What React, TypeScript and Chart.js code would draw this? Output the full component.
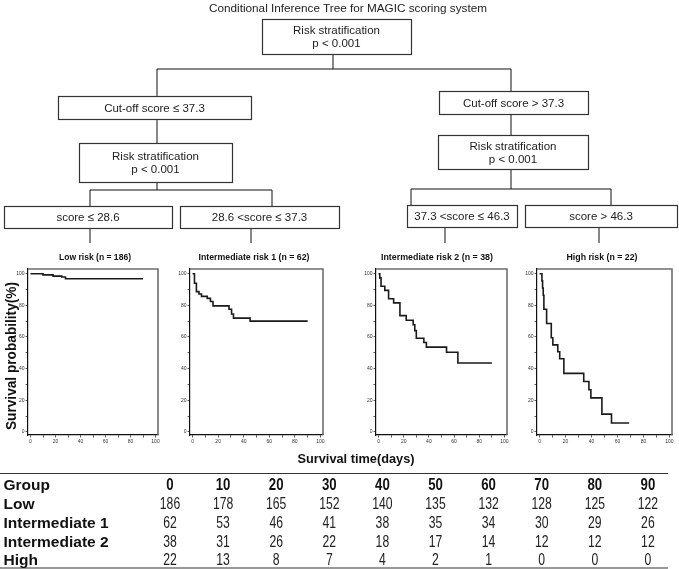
import React, { useEffect, useRef } from 'react';
import { Chart, registerables } from 'chart.js';

Chart.register(...registerables);

// ---------- Kaplan-Meier step data (time in days, survival %) ----------
const lowTimes = [0, 10, 18, 25, 28, 90];
const lowSurv = [100, 99.3, 98.5, 97.9, 96.8, 96.8];

const int1Times = [0, 1.5, 3, 5, 7, 11.5, 14, 16, 28.5, 30.5, 32, 45, 90];
const int1Surv = [100, 94, 88.7, 87.2, 85.7, 84.4, 82.4, 79.7, 77.5, 74.5, 71.9, 70, 70];

const int2Times = [0, 1, 2, 5, 8, 12, 17, 22, 27.5, 28.8, 30, 36, 38, 54, 63, 90];
const int2Surv = [100, 97.4, 92.1, 89.5, 84.2, 81.6, 73.5, 70.6, 67.7, 64, 59.2, 56.5, 53.6, 50.3, 43.5, 43.5];

const highTimes = [0, 1.8, 2.3, 2.8, 3.3, 5.4, 9, 10.2, 14, 15.5, 18.7, 34, 38, 39.5, 48, 55.4, 69];
const highSurv = [100, 95.5, 91, 86.4, 77.5, 68.5, 59.5, 55, 50.7, 46.2, 37, 31.8, 26.6, 21.5, 11.2, 5.6, 5.6];

const axisTicks = [0, 10, 20, 30, 40, 50, 60, 70, 80, 90, 100];

// ---------- Number-at-risk table ----------
const tableTimes = [0, 10, 20, 30, 40, 50, 60, 70, 80, 90];
const groupNames = ['Low', 'Intermediate 1', 'Intermediate 2', 'High'];
const atRiskLow = [186, 178, 165, 152, 140, 135, 132, 128, 125, 122];
const atRiskInt1 = [62, 53, 46, 41, 38, 35, 34, 30, 29, 26];
const atRiskInt2 = [38, 31, 26, 22, 18, 17, 14, 12, 12, 12];
const atRiskHigh = [22, 13, 8, 7, 4, 2, 1, 0, 0, 0];

const PLOT_TOP = 269;
const PLOT_BOTTOM = 435;
const PAD_L = 18;
const PAD_R = 8;
const PAD_T = 5;
const PAD_B = 14;

const framePlugin = {
  id: 'kmFrame',
  afterDraw(chart: any) {
    const { ctx, chartArea: a } = chart;
    ctx.save();
    ctx.strokeStyle = '#6e6e6e';
    ctx.lineWidth = 1.6;
    ctx.beginPath();
    ctx.moveTo(a.left, a.top);
    ctx.lineTo(a.right, a.top);
    ctx.lineTo(a.right, a.bottom);
    ctx.stroke();
    ctx.restore();
  },
};

function KMPanel({ times, surv, left, right }: { times: number[]; surv: number[]; left: number; right: number }) {
  const ref = useRef<HTMLCanvasElement>(null);
  const w = right - left + PAD_L + PAD_R;
  const h = PLOT_BOTTOM - PLOT_TOP + PAD_T + PAD_B;
  useEffect(() => {
    const tickCfg = {
      font: { size: 5, family: 'Arial' },
      color: '#333',
      padding: 1,
      autoSkip: false,
      maxRotation: 0,
      callback: (v: any) => (Number(v) % 20 === 0 ? String(v) : ''),
    };
    const gridCfg = { display: true, drawOnChartArea: false, drawTicks: true, tickLength: 2.5, color: '#333', lineWidth: 0.8 };
    const chart = new Chart(ref.current as HTMLCanvasElement, {
      type: 'line',
      data: {
        datasets: [
          {
            data: times.map((t, i) => ({ x: t, y: surv[i] })),
            stepped: true,
            borderColor: '#1a1a1a',
            borderWidth: 1.6,
            pointRadius: 0,
            fill: false,
          },
        ],
      },
      options: {
        animation: false,
        responsive: false,
        devicePixelRatio: 1,
        events: [],
        layout: { padding: { left: 0, right: PAD_R, top: PAD_T, bottom: 0 } },
        plugins: { legend: { display: false }, tooltip: { enabled: false }, title: { display: false } },
        scales: {
          x: {
            type: 'linear',
            min: -2,
            max: 102,
            afterFit: (s: any) => { s.height = PAD_B; },
            afterBuildTicks: (s: any) => { s.ticks = axisTicks.map((v) => ({ value: v })); },
            ticks: tickCfg,
            grid: gridCfg,
            border: { display: true, color: '#111', width: 1.2 },
          },
          y: {
            type: 'linear',
            min: -2,
            max: 103,
            afterFit: (s: any) => { s.width = PAD_L; },
            afterBuildTicks: (s: any) => { s.ticks = axisTicks.map((v) => ({ value: v })); },
            ticks: tickCfg,
            grid: gridCfg,
            border: { display: true, color: '#111', width: 1.2 },
          },
        },
      } as any,
      plugins: [framePlugin],
    });
    return () => chart.destroy();
  }, []);
  return (
    <canvas
      ref={ref}
      width={w}
      height={h}
      style={{ position: 'absolute', left: left - PAD_L, top: PLOT_TOP - PAD_T, width: w, height: h }}
    />
  );
}

const panels = [
  { title: 'Low risk (n = 186)', times: lowTimes, surv: lowSurv, left: 28, right: 158, tx: 95, tl: 72 },
  { title: 'Intermediate risk 1 (n = 62)', times: int1Times, surv: int1Surv, left: 190, right: 323, tx: 254, tl: 111 },
  { title: 'Intermediate risk 2 (n = 38)', times: int2Times, surv: int2Surv, left: 376, right: 507, tx: 437, tl: 112 },
  { title: 'High risk (n = 22)', times: highTimes, surv: highSurv, left: 537, right: 672, tx: 602, tl: 71 },
];

type Box = { x: number; y: number; w: number; h: number; lines: string[] };
const boxes: Box[] = [
  { x: 262, y: 19, w: 149, h: 35, lines: ['Risk stratification', 'p < 0.001'] },
  { x: 58, y: 96, w: 193, h: 23, lines: ['Cut-off score ≤ 37.3'] },
  { x: 439, y: 91, w: 149, h: 23, lines: ['Cut-off score > 37.3'] },
  { x: 79, y: 143, w: 153, h: 39, lines: ['Risk stratification', 'p < 0.001'] },
  { x: 438, y: 135, w: 150, h: 34, lines: ['Risk stratification', 'p < 0.001'] },
  { x: 4, y: 206, w: 168, h: 22, lines: ['score ≤ 28.6'] },
  { x: 180, y: 206, w: 159, h: 22, lines: ['28.6 <score ≤ 37.3'] },
  { x: 407, y: 205, w: 110, h: 22, lines: ['37.3 <score ≤ 46.3'] },
  { x: 525, y: 205, w: 152, h: 22, lines: ['score > 46.3'] },
];

const connectors: number[][] = [
  [333, 54, 333, 69],
  [157, 69, 511, 69],
  [157, 69, 157, 96],
  [511, 69, 511, 91],
  [157, 119, 157, 143],
  [511, 114, 511, 135],
  [157, 182, 157, 190],
  [90, 190, 272, 190],
  [90, 190, 90, 206],
  [272, 190, 272, 206],
  [511, 169, 511, 189],
  [411, 189, 611, 189],
  [411, 189, 411, 205],
  [611, 189, 611, 205],
  [90, 228, 90, 243],
  [251, 228, 251, 243],
  [445, 227, 445, 243],
  [599, 227, 599, 243],
];

const tableRows = [atRiskLow, atRiskInt1, atRiskInt2, atRiskHigh];
const rowY = [484, 503, 522, 541, 559];
const colX = tableTimes.map((_, i) => 170 + i * 53.1);

export default function App() {
  const font = 'Arial, "Liberation Sans", sans-serif';
  return (
    <div style={{ position: 'absolute', left: 0, top: 0, width: 679, height: 569, background: '#fff', overflow: 'hidden' }}>
      {panels.map((p, i) => (
        <KMPanel key={i} times={p.times} surv={p.surv} left={p.left} right={p.right} />
      ))}
      <svg width={679} height={569} style={{ position: 'absolute', left: 0, top: 0, pointerEvents: 'none' }} fontFamily={font}>
        <text
          x={348}
          y={8}
          fontSize={11}
          textAnchor="middle"
          dominantBaseline="central"
          textLength={278}
          lengthAdjust="spacingAndGlyphs"
          fill="#222"
        >
          Conditional Inference Tree for MAGIC scoring system
        </text>
        {connectors.map((c, i) => (
          <line key={i} x1={c[0]} y1={c[1]} x2={c[2]} y2={c[3]} stroke="#111" strokeWidth={1} />
        ))}
        {boxes.map((b, i) => (
          <g key={i}>
            <rect x={b.x + 0.5} y={b.y + 0.5} width={b.w} height={b.h} fill="#fff" stroke="#333" strokeWidth={1.2} />
            {b.lines.map((ln, j) => (
              <text
                key={j}
                x={b.x + b.w / 2}
                y={b.y + b.h / 2 + (j - (b.lines.length - 1) / 2) * 13}
                fontSize={11.5}
                textAnchor="middle"
                dominantBaseline="central"
                fill="#222"
              >
                {ln}
              </text>
            ))}
          </g>
        ))}
        {panels.map((p, i) => (
          <text
            key={i}
            x={p.tx}
            y={256}
            fontSize={9.5}
            fontWeight="bold"
            textAnchor="middle"
            dominantBaseline="central"
            textLength={p.tl}
            lengthAdjust="spacingAndGlyphs"
            fill="#111"
          >
            {p.title}
          </text>
        ))}
        <text
          transform="translate(11,356) rotate(-90)"
          fontSize={14}
          fontWeight="bold"
          textAnchor="middle"
          dominantBaseline="central"
          textLength={148}
          lengthAdjust="spacingAndGlyphs"
          fill="#111"
        >
          Survival probability(%)
        </text>
        <text
          x={356}
          y={458}
          fontSize={13}
          fontWeight="bold"
          textAnchor="middle"
          dominantBaseline="central"
          textLength={117}
          lengthAdjust="spacingAndGlyphs"
          fill="#111"
        >
          Survival time(days)
        </text>
        <line x1={0} y1={473.5} x2={668} y2={473.5} stroke="#333" strokeWidth={1.2} />
        <line x1={0} y1={568} x2={668} y2={568} stroke="#333" strokeWidth={1.2} />
        <text x={3.5} y={rowY[0]} fontSize={15.5} fontWeight="bold" dominantBaseline="central" fill="#111">
          Group
        </text>
        {tableTimes.map((t, i) => (
          <text
            key={i}
            transform={`translate(${colX[i]},${rowY[0]}) scale(0.8,1)`}
            fontSize={16.5}
            fontWeight="bold"
            textAnchor="middle"
            dominantBaseline="central"
            fill="#111"
          >
            {t}
          </text>
        ))}
        {groupNames.map((g, r) => (
          <g key={r}>
            <text x={3.5} y={rowY[r + 1]} fontSize={15.5} fontWeight="bold" dominantBaseline="central" fill="#111">
              {g}
            </text>
            {tableRows[r].map((v, i) => (
              <text
                key={i}
                transform={`translate(${colX[i]},${rowY[r + 1]}) scale(0.74,1)`}
                fontSize={16.5}
                textAnchor="middle"
                dominantBaseline="central"
                fill="#222"
              >
                {v}
              </text>
            ))}
          </g>
        ))}
      </svg>
    </div>
  );
}
